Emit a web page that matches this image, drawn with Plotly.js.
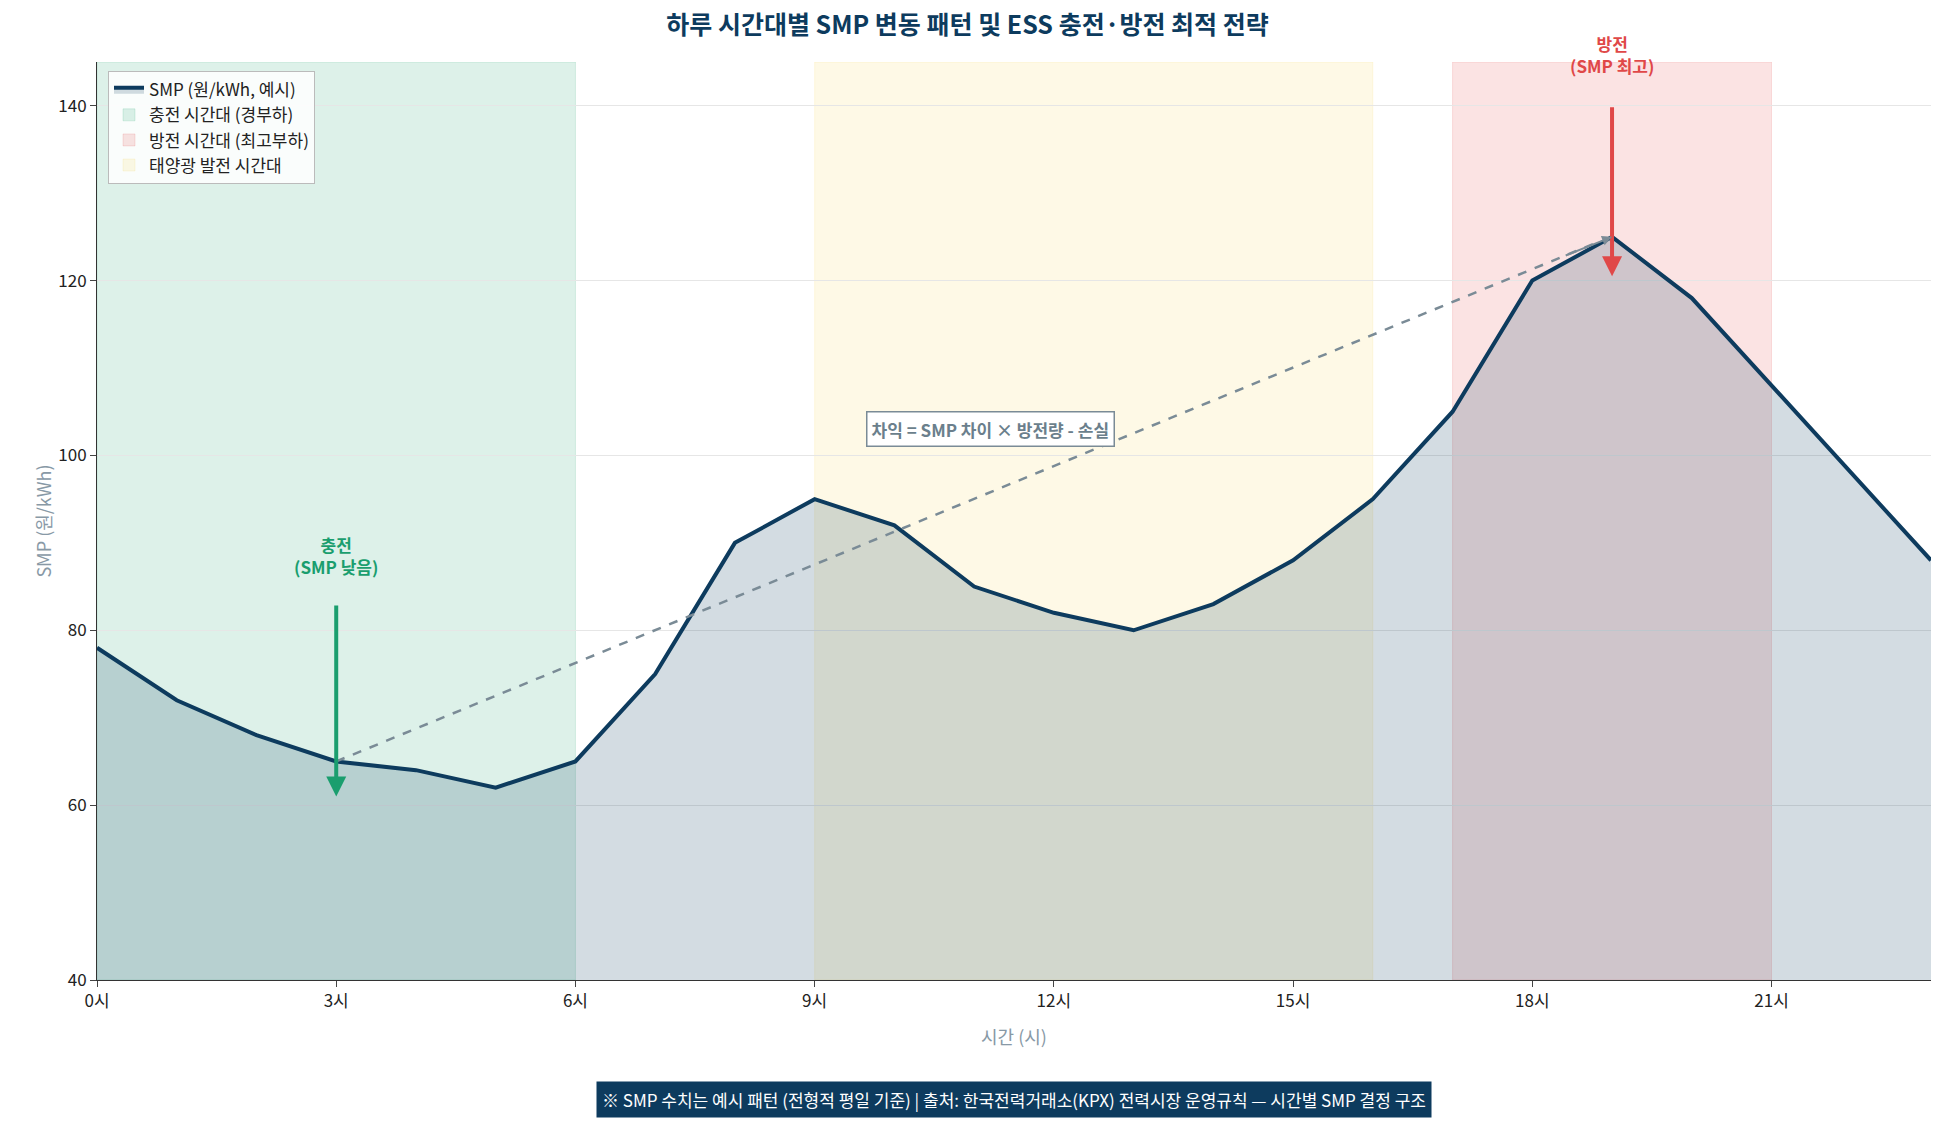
<!DOCTYPE html>
<html><head><meta charset="utf-8">
<script src="https://cdn.plot.ly/plotly-3.0.1.min.js"></script>
<style>body{margin:0;background:#fff}</style></head>
<body><div id="plot" style="width:1935px;height:1125px"></div>
<script>
var hours = [0,1,2,3,4,5,6,7,8,9,10,11,12,13,14,15,16,17,18,19,20,21,22,23];
var smp = [78,72,68,65,64,62,65,75,90,95,92,85,82,80,83,88,95,105,120,125,118,108,98,88];
var tickVals = [0,3,6,9,12,15,18,21];
var tickText = tickVals.map(function(h){ return h + "시"; });
var navy = "#0d3b5e";
var font = "Noto Sans CJK KR, Noto Sans, sans-serif";

var trace = {
    x: hours, y: smp, mode: 'lines', type: 'scatter', name: 'SMP (원/kWh, 예시)',
    line: {color: navy, width: 4}, fill: 'tozeroy', fillcolor: 'rgba(13,59,94,0.18)'
};

function band(x0, x1, color, name) {
    return {type: 'rect', xref: 'x', yref: 'y', x0: x0, x1: x1, y0: 40, y1: 145,
        fillcolor: color, line: {width: 1, color: color}, layer: 'below',
        showlegend: true, name: name};
}

var layout = {
    width: 1935, height: 1125,
    font: {family: font, size: 17, color: '#222'},
    title: {text: '<b>하루 시간대별 SMP 변동 패턴 및 ESS 충전·방전 최적 전략</b>', x: 0.5, y: 0.985,
        font: {size: 25, color: navy}},
    margin: {l: 97, r: 4, t: 62, b: 145},
    plot_bgcolor: '#fff', paper_bgcolor: '#fff',
    xaxis: {range: [0, 23], tickvals: tickVals, ticktext: tickText, showgrid: false, zeroline: false,
        showline: true, linecolor: '#333', ticks: 'outside', ticklen: 6,
        title: {text: '시간 (시)', font: {size: 18, color: '#8899a6'}}},
    yaxis: {range: [40, 145], dtick: 20, showgrid: true, gridcolor: '#e6e6e6', zeroline: false,
        showline: true, linecolor: '#333', ticks: 'outside', ticklen: 6,
        title: {text: 'SMP (원/kWh)', font: {size: 18, color: '#8899a6'}}},
    legend: {x: 0.006, y: 0.99, xanchor: 'left', yanchor: 'top', bgcolor: 'rgba(255,255,255,0.85)',
        bordercolor: '#bbb', borderwidth: 1, font: {size: 17}},
    shapes: [
        band(0, 6, 'rgba(26,158,110,0.15)', '충전 시간대 (경부하)'),
        band(17, 21, 'rgba(230,70,70,0.15)', '방전 시간대 (최고부하)'),
        band(9, 16, 'rgba(245,215,90,0.15)', '태양광 발전 시간대'),
        {type: 'line', xref: 'x', yref: 'y', x0: 3, y0: 65, x1: 18.85, y1: 124.5,
         line: {color: '#7a8b96', width: 2.5, dash: 'dash'}}
    ],
    annotations: [
        {x: 3, y: 61, ax: 3, ay: 83, axref: 'x', ayref: 'y', xref: 'x', yref: 'y', text: '',
         showarrow: true, arrowhead: 2, arrowsize: 1, arrowwidth: 4, arrowcolor: '#1a9e6e'},
        {x: 3, y: 88.5, xref: 'x', yref: 'y', showarrow: false,
         text: '<b>충전<br>(SMP 낮음)</b>', font: {size: 17, color: '#1a9e6e'}},
        {x: 19, y: 120.5, ax: 19, ay: 140, axref: 'x', ayref: 'y', xref: 'x', yref: 'y', text: '',
         showarrow: true, arrowhead: 2, arrowsize: 1, arrowwidth: 4, arrowcolor: '#e04848'},
        {x: 19, y: 1.0, xref: 'x', yref: 'paper', yanchor: 'middle', yshift: 8, showarrow: false,
         text: '<b>방전<br>(SMP 최고)</b>', font: {size: 17, color: '#e04848'}},
        {x: 19, y: 125, ax: 18.4, ay: 122.8, axref: 'x', ayref: 'y', xref: 'x', yref: 'y', text: '',
         showarrow: true, arrowhead: 2, arrowsize: 1, arrowwidth: 2, arrowcolor: '#7a8b96'},
        {x: 11.2, y: 103, xref: 'x', yref: 'y', showarrow: false,
         text: '<b>차익 = SMP 차이 × 방전량 - 손실</b>', font: {size: 17, color: '#6b7f8c'},
         bgcolor: '#fff', bordercolor: '#7a8b96', borderwidth: 1.5, borderpad: 4},
        {x: 0.5, y: -0.15, xref: 'paper', yref: 'paper', showarrow: false,
         text: '※ SMP 수치는 예시 패턴 (전형적 평일 기준) | 출처: 한국전력거래소(KPX) 전력시장 운영규칙 — 시간별 SMP 결정 구조',
         font: {size: 17, color: '#fff'}, bgcolor: navy, borderpad: 5}
    ]
};
Plotly.newPlot('plot', [trace], layout, {displayModeBar: false});
</script></body></html>
